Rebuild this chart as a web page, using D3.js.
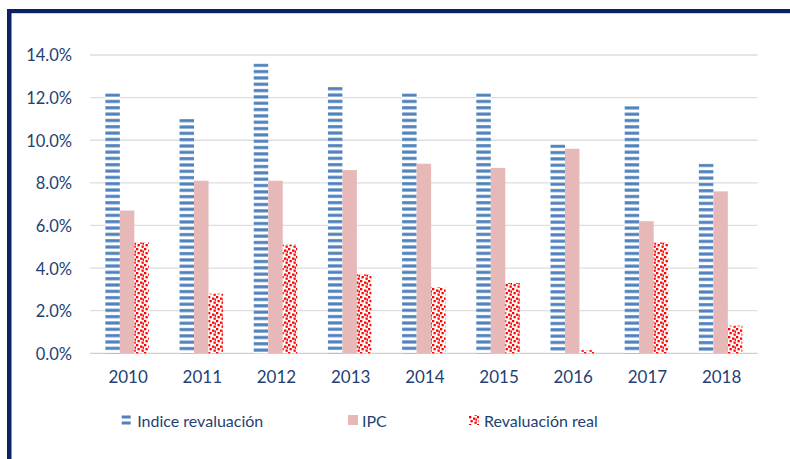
<!DOCTYPE html>
<html><head><meta charset="utf-8">
<script src="https://cdn.jsdelivr.net/npm/d3@7"></script>
<style>
html,body{margin:0;padding:0;background:#fff;}
svg{display:block;}
text{font-family:Lato,"Open Sans",sans-serif;}
</style></head>
<body>
<svg id="c" width="790" height="459"></svg>
<script>
const years = ["2010","2011","2012","2013","2014","2015","2016","2017","2018"];
const indiceRevaluacion = [12.2, 11.0, 13.6, 12.5, 12.2, 12.2, 9.8, 11.6, 8.9];
const ipc = [6.7, 8.1, 8.1, 8.6, 8.9, 8.7, 9.6, 6.2, 7.6];
const revaluacionReal = [5.2, 2.8, 5.1, 3.7, 3.1, 3.3, 0.15, 5.2, 1.3];
const seriesNames = ["Indice revaluación", "IPC", "Revaluación real"];
const yTicks = [0, 2, 4, 6, 8, 10, 12, 14];

const textColor = "#243F74";
const svg = d3.select("#c");
const defs = svg.append("defs");

const x0 = d3.scaleBand().domain(years).range([90, 757.7]).paddingInner(0.414).paddingOuter(0.207);
const x1 = d3.scaleBand().domain(seriesNames).range([0, x0.bandwidth()]);
const y = d3.scaleLinear().domain([0, 14]).range([353.3, 55]);

// stripes patterns, anchored at each bar's top
indiceRevaluacion.forEach((v, i) => {
  const ps = defs.append("pattern").attr("id","stripes"+i).attr("patternUnits","userSpaceOnUse")
    .attr("width",10).attr("height",6.33).attr("y",y(v));
  ps.append("rect").attr("width",10).attr("height",6.33).attr("fill","#fff");
  ps.append("rect").attr("y",0.2).attr("width",10).attr("height",3.1).attr("fill","#4F81BD");
});
// confetti pattern
const pc = defs.append("pattern").attr("id","confetti").attr("patternUnits","userSpaceOnUse")
  .attr("width",8).attr("height",8);
pc.append("rect").attr("width",8).attr("height",8).attr("fill","#fff");
[[0,0],[4,1.5],[1.5,4],[5.5,5.5],[6.5,2.5]].forEach(([px,py])=>{
  pc.append("rect").attr("x",px).attr("y",py).attr("width",2.3).attr("height",2.3).attr("fill","#FF0000");
});
const fills = [(i)=>"url(#stripes"+i+")", ()=>"#E6B9B8", ()=>"url(#confetti)"];

// border
svg.append("rect").attr("x",7).attr("y",9).attr("width",790).attr("height",4.2).attr("fill","#0B2263");
svg.append("rect").attr("x",7).attr("y",9).attr("width",4.5).attr("height",460).attr("fill","#0B2263");

// gridlines
svg.append("g").selectAll("line").data(yTicks).join("line")
  .attr("x1",90).attr("x2",757.7)
  .attr("y1",d=>y(d)).attr("y2",d=>y(d))
  .attr("stroke",d=>d===0?"#d0d0d0":"#dedede").attr("stroke-width",1.3);

// y axis
const yAxis = d3.axisLeft(y).tickValues(yTicks).tickFormat(d=>d3.format(".1f")(d)+"%").tickSize(0).tickPadding(0);
const gy = svg.append("g").attr("transform","translate(72,0)").call(yAxis);
gy.select(".domain").remove();
gy.selectAll("text").attr("fill",textColor).style("font-size","16.5px").attr("dy","0.36em");

// x axis
const xAxis = d3.axisBottom(x0).tickSize(0).tickPadding(0);
const gx = svg.append("g").attr("transform","translate(1,368)").call(xAxis);
gx.select(".domain").remove();
gx.selectAll("text").attr("fill",textColor).style("font-size","17px").attr("dy","0.9em");

// bars
const allSeries = [indiceRevaluacion, ipc, revaluacionReal];
allSeries.forEach((vals, si) => {
  svg.append("g").selectAll("rect").data(vals).join("rect")
    .attr("x",(d,i)=>x0(years[i]) + x1(seriesNames[si]))
    .attr("width",x1.bandwidth())
    .attr("y",d=>y(d))
    .attr("height",d=>y(0)-y(d))
    .attr("fill",(d,i)=>fills[si](i));
});

// legend
const legendX = [121.7, 348, 469];
const lg = svg.append("g");
seriesNames.forEach((name, i) => {
  const g = lg.append("g").attr("transform",`translate(${legendX[i]},0)`);
  if (i === 0) {
    g.append("rect").attr("x",0).attr("y",415.5).attr("width",9).attr("height",3).attr("fill","#4F81BD");
    g.append("rect").attr("x",0).attr("y",421.5).attr("width",9).attr("height",3).attr("fill","#4F81BD");
  } else {
    g.append("rect").attr("x",0).attr("y",415).attr("width",10).attr("height",10).attr("fill",i===1?"#E6B9B8":"url(#confetti)");
  }
  g.append("text").attr("x", i===0?15.5:(i===1?14:15)).attr("y",427).attr("fill",textColor)
    .style("font-size","16px").text(name);
});
</script>
</body></html>
